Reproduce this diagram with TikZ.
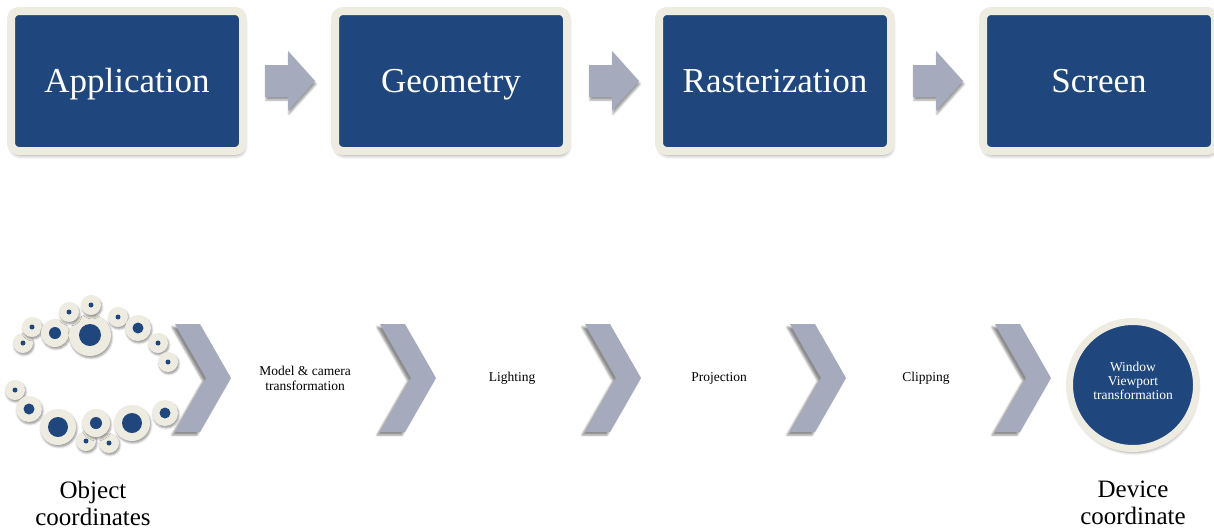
\documentclass[tikz,border=0pt]{standalone}
\usepackage{fontspec}
\setmainfont{Liberation Serif}
\usetikzlibrary{calc,shadows.blur}

\definecolor{stageblue}{RGB}{31,71,125}
\definecolor{stagecream}{RGB}{238,236,225}
\definecolor{flowgray}{RGB}{165,170,188}

\tikzset{
  stage/.style={rectangle, rounded corners=8pt, fill=stageblue, draw=stagecream,
    line width=8pt, minimum width=232pt, minimum height=140pt, text=white,
    font=\fontsize{35}{40}\selectfont, text height=22pt, text depth=0pt,
    blur shadow={shadow xshift=1pt, shadow yshift=-4pt, shadow blur radius=4pt, shadow opacity=45}},
  flowarrow/.style={fill=flowgray,
    blur shadow={shadow xshift=1pt, shadow yshift=-3pt, shadow blur radius=2pt, shadow opacity=40}},
  chevron/.style={fill=flowgray,
    blur shadow={shadow xshift=-3pt, shadow yshift=-3pt, shadow blur radius=2pt, shadow opacity=45}},
  bead/.style={fill=stagecream,
    blur shadow={shadow xshift=1pt, shadow yshift=-2pt, shadow blur radius=2pt, shadow opacity=40}},
  stagelabel/.style={align=center, font=\fontsize{13.5}{15}\selectfont},
  coordlabel/.style={align=center, font=\fontsize{25}{27}\selectfont}
}

\begin{document}
\begin{tikzpicture}[x=1pt,y=-1pt]
  \useasboundingbox (0,0) rectangle (1214,531);

  \node[stage] (app) at (127,81) {Application};
  \node[stage] (geo) at (451,81) {Geometry};
  \node[stage] (ras) at (775,81) {Rasterization};
  \node[stage] (scr) at (1099,81) {Screen};

  \foreach \a/\b in {app/geo, geo/ras, ras/scr}
    \path[flowarrow] ($(\a.east)!0.5!(\b.west)$) ++(-24,-16) -- ++(23,0) -- ++(0,-14)
      -- ++(27,30) -- ++(-27,30) -- ++(0,-14) -- ++(-23,0) -- cycle;

  % beads round the object
  \foreach \x/\y/\r/\s in {23/343/10/2.5, 32/327/10/2.5, 55/333/14/6, 90/335/21/11,
      69/312/10/2.5, 91/305/10/2.5, 118/317/10/2.5, 138/328/13/5.5, 158/343/10/2.5,
      168/362/10/2.5, 15/390/10/2.5, 29/409/13/5.5, 58/427/18/10, 86/441/10/2.5,
      109/443/10/2.5, 96/423/14/6, 132/423/18/10, 165/413/13/5.5}
  {
    \path[bead] (\x,\y) circle (\r);
    \fill[stageblue] (\x,\y) circle (\s);
  }

  \foreach \k in {0,...,4}
    \path[chevron] ({175+205*\k},324) -- ++(25,0) -- ++(31,54) -- ++(-31,54)
      -- ++(-25,0) -- ++(31,-54) -- cycle;

  \node[stagelabel] (model) at (305,378) {Model \& camera\\transformation};
  \node[stagelabel] (light) at (512,378) {Lighting};
  \node[stagelabel] (proj) at (719,378) {Projection};
  \node[stagelabel] (clip) at (926,378) {Clipping};

  \node[circle, fill=stageblue, draw=stagecream, line width=7pt, minimum size=127pt,
    blur shadow={shadow xshift=1pt, shadow yshift=-4pt, shadow blur radius=3pt, shadow opacity=40}]
    (view) at (1133,385) {};
  \node[text=white, align=center, font=\fontsize{13.5}{14}\selectfont]
    (viewtext) at (1133,381) {Window\\Viewport\\transformation};

  \node[coordlabel] (obj) at (93,503) {Object\\coordinates};
  \node[coordlabel] (dev) at (1133,503) {Device\\coordinate};
\end{tikzpicture}
\end{document}
